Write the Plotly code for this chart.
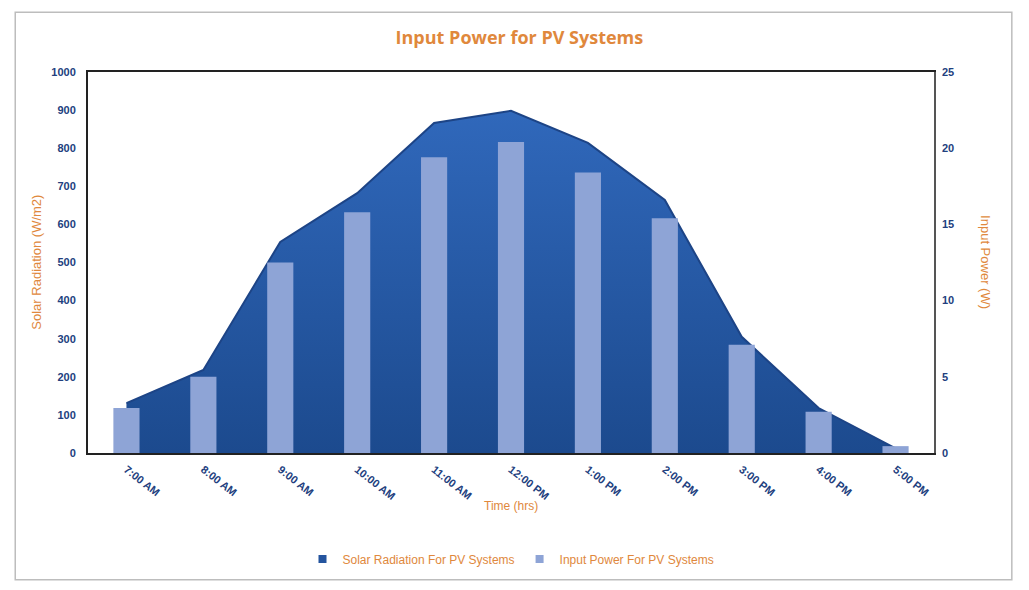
import plotly.graph_objects as go

# data
times = ["7:00 AM", "8:00 AM", "9:00 AM", "10:00 AM", "11:00 AM", "12:00 PM",
         "1:00 PM", "2:00 PM", "3:00 PM", "4:00 PM", "5:00 PM"]
solar_radiation = [131, 218, 554, 682, 866, 898, 814, 664, 305, 118, 12]
input_power = [2.95, 5.0, 12.5, 15.8, 19.4, 20.4, 18.4, 15.4, 7.1, 2.7, 0.45]

ORANGE = "#e0883c"
TICK_BLUE = "#22407e"
FONT = "Liberation Sans"
AREA_COLOR = "#24549e"
BAR_COLOR = "#8ea4d6"

fig = go.Figure()

fig.add_trace(go.Scatter(
    x=times, y=solar_radiation,
    name="Solar Radiation For PV Systems",
    mode="lines",
    line=dict(color="#1d4486", width=2),
    fill="tozeroy",
    fillgradient=dict(type="vertical",
                      colorscale=[[0, "#1c4a8e"], [1, "#3068bb"]]),
    yaxis="y",
    showlegend=False,
))

fig.add_trace(go.Bar(
    x=times, y=input_power,
    name="Input Power For PV Systems",
    marker=dict(color=BAR_COLOR, line=dict(width=0)),
    width=0.34,
    yaxis="y2",
    showlegend=False,
))

# legend entries drawn as small squares, like the original
fig.add_trace(go.Scatter(x=[None], y=[None], mode="markers",
                         name="Solar Radiation For PV Systems",
                         marker=dict(symbol="square", size=8, color=AREA_COLOR)))
fig.add_trace(go.Scatter(x=[None], y=[None], mode="markers",
                         name="Input Power For PV Systems",
                         marker=dict(symbol="square", size=8, color=BAR_COLOR)))

tick_font = dict(size=11, color=TICK_BLUE, family=FONT, weight="bold")

fig.update_layout(
    width=1029, height=590,
    margin=dict(l=80, r=103, t=64, b=145),
    paper_bgcolor="white", plot_bgcolor="white",
    font=dict(family=FONT),
    title=dict(text="<b>Input Power for PV Systems</b>", x=0.497, xanchor="center",
               y=0.95, yanchor="middle",
               font=dict(size=18, color=ORANGE, family="Open Sans")),
    showlegend=True,
    legend=dict(orientation="h", x=0.5, xanchor="center", y=-0.278,
                yanchor="middle", font=dict(size=12, color=ORANGE),
                itemwidth=30),
    xaxis=dict(
        type="category",
        tickangle=38,
        tickfont=tick_font,
        ticklabelstandoff=4,
        showline=True, linecolor="#222", linewidth=2, mirror=True,
        showgrid=False, ticks="",
    ),
    yaxis=dict(
        range=[0, 1000], dtick=100,
        tickfont=tick_font,
        ticklabelstandoff=8,
        showline=True, linecolor="#222", linewidth=2,
        showgrid=False, ticks="", zeroline=False,
    ),
    yaxis2=dict(
        range=[0, 25], dtick=5, overlaying="y", side="right",
        tickfont=tick_font,
        ticklabelstandoff=4,
        showline=True, linecolor="#555", linewidth=1.5,
        showgrid=False, ticks="", zeroline=False,
    ),
    annotations=[
        dict(text="Solar Radiation (W/m2)", xref="paper", yref="paper",
             x=-0.0725, y=0.5, textangle=-90, showarrow=False,
             font=dict(size=13, color=ORANGE)),
        dict(text="Input Power (W)", xref="paper", yref="paper",
             x=1.072, y=0.5, textangle=90, showarrow=False,
             font=dict(size=13, color=ORANGE)),
        dict(text="Time (hrs)", xref="paper", yref="paper",
             x=0.5, y=-0.163, showarrow=False,
             font=dict(size=12, color=ORANGE)),
    ],
    shapes=[
        dict(type="rect", xref="paper", yref="paper",
             x0=-0.086, x1=1.092, y0=-0.333, y1=1.157,
             line=dict(color="#bdbdbd", width=1.5)),
    ],
)

fig.write_html("out.html")
